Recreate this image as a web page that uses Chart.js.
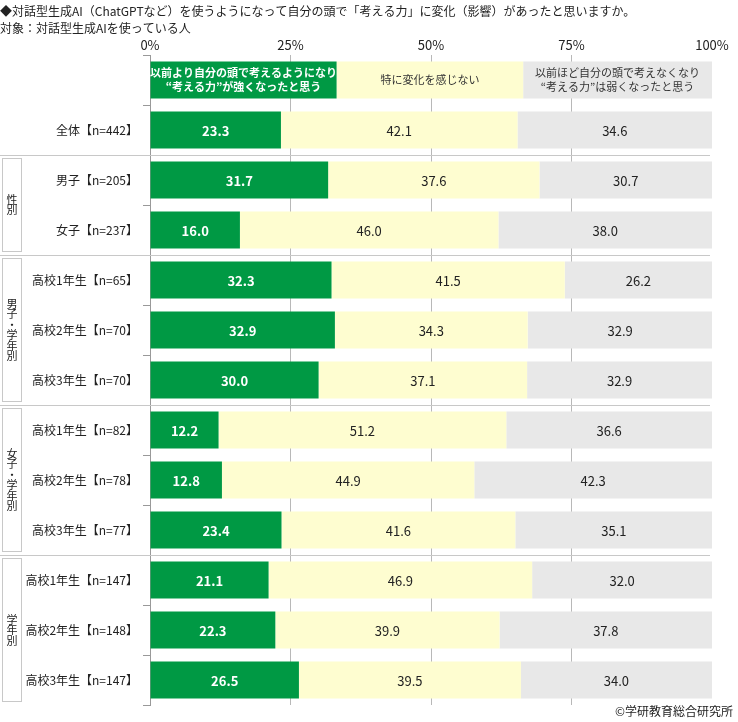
<!DOCTYPE html>
<html lang="ja">

<head>
    <meta charset="UTF-8">
    <title>対話型生成AIと「考える力」</title>
    <style>
        body {
            margin: 0;
            background: #fff;
            font-family: "Noto Sans CJK JP", sans-serif;
        }

        .wrap {
            width: 738px;
            height: 722px;
        }
    </style>
    <script src="https://cdn.jsdelivr.net/npm/chart.js"></script>
</head>

<body>
    <div class="wrap">
        <canvas id="chart"></canvas>
    </div>

    <script>
        // 行ラベル（先頭の空行は凡例バー用）
        const categories = ['', '全体【n=442】', '男子【n=205】', '女子【n=237】',
            '高校1年生【n=65】', '高校2年生【n=70】', '高校3年生【n=70】',
            '高校1年生【n=82】', '高校2年生【n=78】', '高校3年生【n=77】',
            '高校1年生【n=147】', '高校2年生【n=148】', '高校3年生【n=147】'];

        const stronger = [23.3, 31.7, 16.0, 32.3, 32.9, 30.0, 12.2, 12.8, 23.4, 21.1, 22.3, 26.5];
        const noChange = [42.1, 37.6, 46.0, 41.5, 34.3, 37.1, 51.2, 44.9, 41.6, 46.9, 39.9, 39.5];
        const weaker = [34.6, 30.7, 38.0, 26.2, 32.9, 32.9, 36.6, 42.3, 35.1, 32.0, 37.8, 34.0];

        // 凡例バーの区分幅
        const legendShares = [33.2, 33.2, 33.6];
        const legendTexts = [
            ['以前より自分の頭で考えるようになり', '“考える力”が強くなったと思う'],
            ['特に変化を感じない'],
            ['以前ほど自分の頭で考えなくなり', '“考える力”は弱くなったと思う']
        ];

        const xTicks = [0, 25, 50, 75, 100];

        // 左側のグループ枠
        const groupNames = ['性別', '男子・学年別', '女子・学年別', '学年別'];
        const groupStart = [2, 4, 7, 10];
        const groupEnd = [3, 6, 9, 12];

        const colors = ['#009944', '#fefdd0', '#e8e8e8'];
        const FONT = '"Noto Sans CJK JP", sans-serif';

        const barText = {
            id: 'barText',
            afterDatasetsDraw(chart) {
                const ctx = chart.ctx;
                ctx.save();
                ctx.textAlign = 'center';
                ctx.textBaseline = 'middle';
                chart.data.datasets.forEach((ds, di) => {
                    const meta = chart.getDatasetMeta(di);
                    meta.data.forEach((bar, i) => {
                        const cx = (bar.x + bar.base) / 2;
                        const cy = bar.y;
                        if (i === 0) {
                            const lines = legendTexts[di];
                            ctx.fillStyle = di === 0 ? '#fff' : '#333';
                            ctx.font = (di === 0 ? 'bold ' : '') + '11px ' + FONT;
                            const lh = 14;
                            lines.forEach((t, k) => {
                                ctx.fillText(t, cx, cy + (k - (lines.length - 1) / 2) * lh);
                            });
                        } else {
                            ctx.fillStyle = di === 0 ? '#fff' : '#222';
                            ctx.font = (di === 0 ? 'bold ' : '') + '13px ' + FONT;
                            ctx.fillText(ds.data[i].toFixed(1), cx, cy + 1);
                        }
                    });
                });
                ctx.restore();
            }
        };

        const groups = {
            id: 'groups',
            beforeDatasetsDraw(chart) {
                const ctx = chart.ctx;
                const y = chart.scales.y;
                const area = chart.chartArea;
                const half = (y.getPixelForValue(1) - y.getPixelForValue(0)) / 2;
                ctx.save();
                ctx.strokeStyle = '#c8c8c8';
                ctx.lineWidth = 1;
                groupStart.forEach((s, g) => {
                    const top = y.getPixelForValue(s) - half;
                    const bottom = y.getPixelForValue(groupEnd[g]) + half;
                    ctx.beginPath();
                    ctx.moveTo(0, Math.round(top) + 0.5);
                    ctx.lineTo(area.right - 2, Math.round(top) + 0.5);
                    ctx.stroke();
                    ctx.strokeRect(2.5, Math.round(top) + 3.5, 19, Math.round(bottom - top) - 7);

                    const chars = Array.from(groupNames[g]);
                    const step = 10.5;
                    const mid = (top + bottom) / 2;
                    ctx.fillStyle = '#222';
                    ctx.font = '11px ' + FONT;
                    ctx.textAlign = 'center';
                    ctx.textBaseline = 'middle';
                    chars.forEach((c, k) => {
                        ctx.fillText(c, 12, mid + (k - (chars.length - 1) / 2) * step);
                    });
                });
                ctx.restore();
            },
            afterDraw(chart) {
                const ctx = chart.ctx;
                ctx.save();
                ctx.fillStyle = '#222';
                ctx.font = '12px ' + FONT;
                ctx.textAlign = 'right';
                ctx.textBaseline = 'middle';
                ctx.fillText('©学研教育総合研究所', 733, 711);
                ctx.restore();
            }
        };

        const seriesNames = ['強くなった', '変化なし', '弱くなった'];
        const seriesData = [stronger, noChange, weaker];

        new Chart(document.getElementById('chart'), {
            type: 'bar',
            data: {
                labels: categories,
                datasets: seriesData.map((d, i) => ({
                    label: seriesNames[i],
                    data: [legendShares[i]].concat(d),
                    backgroundColor: colors[i],
                    borderWidth: 0,
                    barPercentage: 0.74,
                    categoryPercentage: 1
                }))
            },
            options: {
                indexAxis: 'y',
                responsive: true,
                maintainAspectRatio: false,
                animation: false,
                layout: {
                    padding: { left: 0, right: 26, top: 0, bottom: 17 }
                },
                plugins: {
                    legend: { display: false },
                    tooltip: { enabled: false },
                    title: {
                        display: true,
                        align: 'start',
                        text: ['◆対話型生成AI（ChatGPTなど）を使うようになって自分の頭で「考える力」に変化（影響）があったと思いますか。',
                            '対象：対話型生成AIを使っている人'],
                        color: '#222',
                        font: { family: FONT, size: 12, weight: 'normal', lineHeight: 1.42 },
                        padding: { top: 3, bottom: 0 }
                    }
                },
                scales: {
                    x: {
                        position: 'top',
                        stacked: true,
                        min: 0,
                        max: 100,
                        afterFit(scale) { scale.height = 18; },
                        afterBuildTicks(scale) {
                            scale.ticks = xTicks.map(v => ({ value: v }));
                        },
                        ticks: {
                            color: '#222',
                            padding: 2,
                            font: { family: FONT, size: 13 },
                            callback: v => v + '%'
                        },
                        grid: {
                            drawTicks: false,
                            color: c => (c.tick && c.tick.value === 100) ? 'rgba(0,0,0,0)' : '#b8b8b8'
                        },
                        border: { display: false }
                    },
                    y: {
                        stacked: true,
                        afterFit(scale) { scale.width = 150; },
                        ticks: {
                            color: '#222',
                            padding: 5,
                            font: { family: FONT, size: 12 }
                        },
                        grid: {
                            drawOnChartArea: false,
                            tickLength: 7,
                            color: '#999'
                        },
                        border: { display: true, color: '#999' }
                    }
                }
            },
            plugins: [groups, barText]
        });
    </script>
</body>

</html>
